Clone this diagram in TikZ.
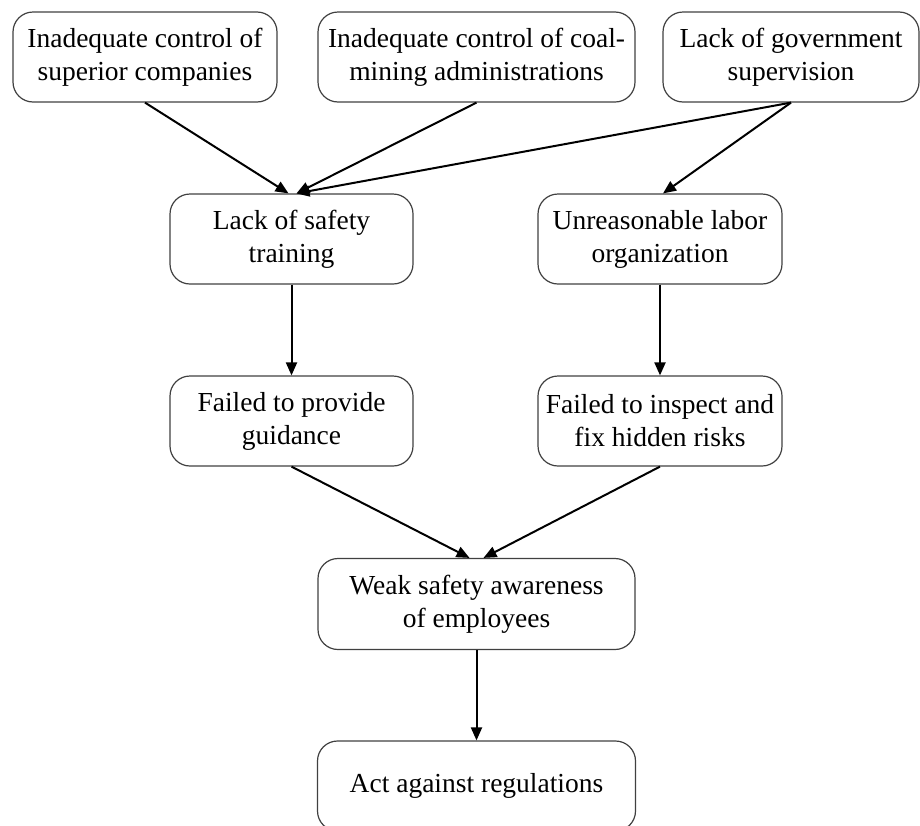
\documentclass[tikz,border=0pt]{standalone}
\usepackage{fontspec}
\setmainfont{Liberation Serif}
\usetikzlibrary{arrows.meta}
\begin{document}
\begin{tikzpicture}[x=1pt,y=-1pt,
  box/.style={draw=black!75, line width=1.2pt, rounded corners=20pt,
    minimum height=90pt, align=center, inner sep=0pt,
    font=\fontsize{27.5}{33}\selectfont},
  link/.style={draw=black, line width=2pt,
    -{Triangle[length=13pt,width=11pt]}}]
  \useasboundingbox (0,0) rectangle (920,825);

  % top row: root causes
  \node[box, minimum width=264pt] (ctrlSup) at (145,57)
    {Inadequate control of\\superior companies};
  \node[box, minimum width=317pt] (ctrlAdm) at (476.5,57)
    {Inadequate control of coal-\\mining administrations};
  \node[box, minimum width=256pt] (govSup) at (791,57)
    {Lack of government\\supervision};

  % second row
  \node[box, minimum width=243pt] (training) at (291.5,239)
    {Lack of safety\\training};
  \node[box, minimum width=244pt] (labor) at (660,239)
    {Unreasonable labor\\organization};

  % third row
  \node[box, minimum width=243pt] (guidance) at (291.5,421)
    {Failed to provide\\guidance};
  \node[box, minimum width=244pt] (risks) at (660,421)
    {Failed to inspect and\\fix hidden risks};

  % consequences
  \node[box, minimum width=317pt, minimum height=91pt] (aware) at (476.5,604)
    {Weak safety awareness\\of employees};
  \node[box, minimum width=318pt] (act) at (476.5,786)
    {Act against regulations};

  % connectors
  \draw[link] (ctrlSup.south) -- ([xshift=-3pt]training.north);
  \draw[link] (ctrlAdm.south) -- ([xshift=5pt]training.north);
  \draw[link] (govSup.south) -- ([xshift=5pt]training.north);
  \draw[link] (govSup.south) -- ([xshift=3pt]labor.north);
  \draw[link] (training.south) -- (guidance.north);
  \draw[link] (labor.south) -- (risks.north);
  \draw[link] (guidance.south) -- ([xshift=-7pt]aware.north);
  \draw[link] (risks.south) -- ([xshift=7pt]aware.north);
  \draw[link] (aware.south) -- (act.north);
\end{tikzpicture}
\end{document}
